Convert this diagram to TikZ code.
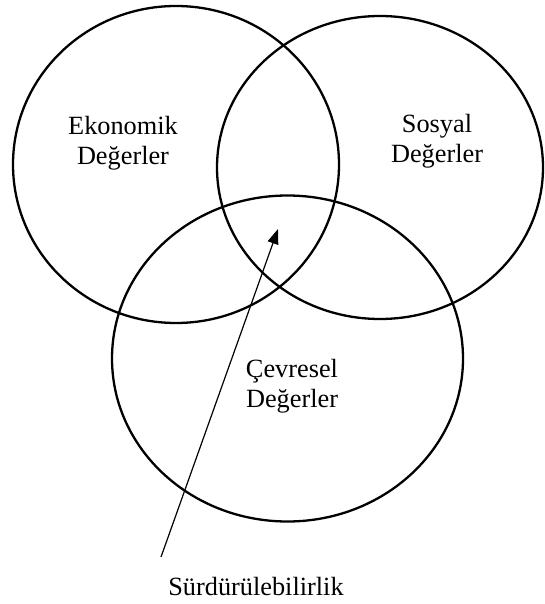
\documentclass[tikz,border=0pt]{standalone}
\usepackage{fontspec}
\setmainfont{Liberation Serif}
\usetikzlibrary{arrows.meta}
\begin{document}
\begin{tikzpicture}[x=1pt,y=-1pt,
  ring/.style={draw=black,line width=2.3pt},
  lbl/.style={inner sep=0pt,align=center,font=\fontsize{26.3}{30}\selectfont},
  pointer/.style={draw=black,line width=1.2pt,-{Triangle[length=15pt,width=11pt]}}]
\useasboundingbox (0,0) rectangle (544,604);
\draw[ring] (176,164.5) ellipse [x radius=163, y radius=158.5];
\draw[ring] (380,167.5) ellipse [x radius=163, y radius=151.5];
\draw[ring] (287.5,358.5) ellipse [x radius=175.5, y radius=163];
\node[lbl] (eko) at (123,143) {Ekonomik\\Değerler};
\node[lbl] (sos) at (437,141) {Sosyal\\Değerler};
\node[lbl] (cev) at (292,386) {Çevresel\\Değerler};
\node[lbl,anchor=base] (sur) at (256,595) {Sürdürülebilirlik};
\coordinate (tail) at (161,557);
\coordinate (tip) at (278,229);
\draw[pointer] (tail) -- (tip);
\end{tikzpicture}
\end{document}
